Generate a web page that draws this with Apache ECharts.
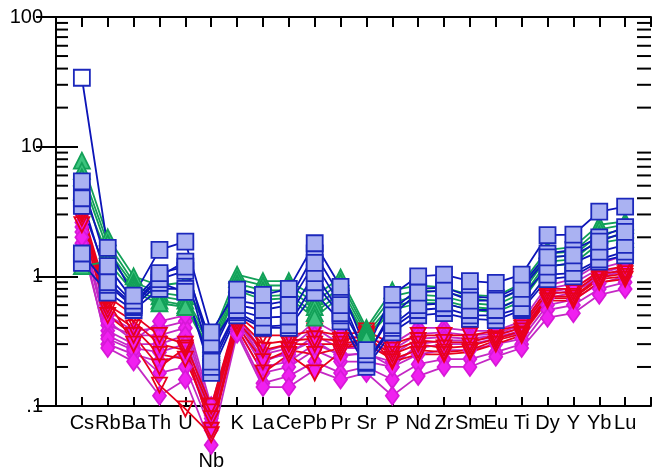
<!DOCTYPE html>
<html><head><meta charset="utf-8">
<script src="https://cdn.jsdelivr.net/npm/echarts@6/dist/echarts.min.js"></script>
<style>html,body{margin:0;padding:0;background:#fff}#c{width:654px;height:473px}</style>
</head><body><div id="c"></div>
<script>
const categories = ['Cs','Rb','Ba','Th','U','Nb','K','La','Ce','Pb','Pr','Sr','P','Nd','Zr','Sm','Eu','Ti','Dy','Y','Yb','Lu'];
const yTickLabels = {0.1: '.1', 1: '1', 10: '10', 100: '100'};
const minorTickValues = [0.2,0.3,0.4,0.5,0.6,0.7,0.8,0.9,2,3,4,5,6,7,8,9,20,30,40,50,60,70,80,90];

// Magenta diamonds
const magenta1 = [3.5,0.50,0.38,0.40,0.45,0.090,0.50,0.26,0.30,0.45,0.35,0.33,0.30,0.40,0.40,0.38,0.38,0.45,0.85,0.95,1.25,1.45];
const magenta2 = [3.0,0.42,0.35,0.35,0.40,0.085,0.47,0.25,0.28,0.40,0.30,0.30,0.27,0.36,0.37,0.35,0.36,0.42,0.80,0.88,1.15,1.30];
const magenta3 = [2.4,0.38,0.30,0.30,0.35,0.080,0.45,0.23,0.25,0.35,0.28,0.28,0.25,0.33,0.34,0.33,0.35,0.40,0.75,0.82,1.05,1.20];
const magenta4 = [2.2,0.35,0.28,0.26,0.30,0.075,0.43,0.20,0.22,0.30,0.25,0.25,0.22,0.28,0.30,0.30,0.33,0.37,0.68,0.75,0.98,1.10];
const magenta5 = [1.8,0.30,0.25,0.22,0.25,0.070,0.40,0.18,0.20,0.27,0.22,0.22,0.20,0.25,0.27,0.27,0.30,0.33,0.60,0.66,0.88,1.00];
const magenta6 = [2.6,0.33,0.27,0.18,0.20,0.065,0.38,0.15,0.17,0.22,0.18,0.20,0.16,0.21,0.23,0.23,0.26,0.30,0.55,0.60,0.80,0.90];
const magenta7 = [2.0,0.28,0.22,0.12,0.16,0.050,0.36,0.14,0.14,0.19,0.16,0.18,0.12,0.17,0.20,0.20,0.24,0.28,0.48,0.52,0.72,0.80];
const magenta8 = [3.8,0.45,0.32,0.45,0.50,0.100,0.48,0.22,0.26,0.32,0.24,0.26,0.20,0.30,0.32,0.32,0.34,0.38,0.72,0.78,1.00,1.15];
// Red open inverted triangles
const red1 = [3.3,0.70,0.50,0.35,0.30,0.100,0.50,0.35,0.35,0.38,0.35,0.38,0.30,0.35,0.35,0.35,0.38,0.42,0.80,0.80,1.10,1.20];
const red2 = [3.0,0.60,0.45,0.30,0.27,0.090,0.48,0.30,0.32,0.33,0.32,0.35,0.27,0.32,0.31,0.31,0.35,0.40,0.75,0.75,1.05,1.10];
const red3 = [2.8,0.55,0.40,0.25,0.23,0.080,0.45,0.27,0.30,0.30,0.30,0.33,0.25,0.30,0.28,0.29,0.33,0.38,0.70,0.70,0.98,1.05];
const red4 = [2.5,0.50,0.35,0.20,0.28,0.065,0.42,0.22,0.27,0.25,0.28,0.30,0.23,0.27,0.26,0.27,0.32,0.36,0.68,0.68,0.95,1.00];
const red5 = [3.1,0.65,0.30,0.145,0.095,0.060,0.40,0.18,0.25,0.18,0.26,0.36,0.22,0.25,0.25,0.26,0.30,0.35,0.65,0.65,0.90,0.95];
// Green triangles
const green1 = [7.8,2.0,1.00,0.85,0.90,0.33,1.03,0.92,0.92,0.70,0.98,0.40,0.78,0.85,0.82,0.72,0.70,0.88,1.60,1.68,2.50,2.65];
const green2 = [6.5,1.8,0.90,0.75,0.70,0.30,0.95,0.85,0.85,0.63,0.90,0.38,0.70,0.78,0.76,0.68,0.64,0.80,1.50,1.55,2.30,2.50];
const green3 = [5.8,1.6,0.85,0.70,0.65,0.28,0.88,0.78,0.78,0.58,0.82,0.36,0.62,0.72,0.70,0.62,0.60,0.74,1.40,1.45,2.10,2.30];
const green4 = [4.5,1.45,0.80,0.65,0.60,0.26,0.82,0.70,0.72,0.52,0.75,0.34,0.58,0.66,0.65,0.58,0.56,0.68,1.30,1.35,1.95,2.10];
const green5 = [1.2,1.3,0.75,0.62,0.58,0.25,0.78,0.66,0.68,0.48,0.70,0.33,0.55,0.62,0.62,0.55,0.53,0.64,1.20,1.25,1.80,1.95];
// Blue squares
const blue1 = [34,1.66,0.71,1.60,1.85,0.37,0.79,0.72,0.80,1.80,0.83,0.27,0.72,1.00,1.03,0.92,0.89,1.03,2.08,2.10,3.15,3.45];
const blue2 = [5.4,1.20,0.65,1.06,1.19,0.30,0.60,0.55,0.60,1.27,0.60,0.25,0.50,0.75,0.78,0.65,0.65,0.80,1.40,1.45,1.85,2.20];
const blue3 = [4.0,0.90,0.60,0.95,1.10,0.22,0.55,0.48,0.49,1.06,0.52,0.22,0.42,0.60,0.62,0.55,0.55,0.68,1.19,1.27,1.55,1.75];
const blue4 = [1.5,0.86,0.58,0.89,0.76,0.20,0.53,0.41,0.42,0.90,0.50,0.215,0.40,0.55,0.57,0.50,0.50,0.57,1.03,1.06,1.35,1.55];
const blue5 = [1.27,0.75,0.55,0.80,0.80,0.18,0.50,0.40,0.40,0.75,0.45,0.20,0.37,0.50,0.52,0.47,0.46,0.55,0.95,1.00,1.30,1.45];
const blue6 = [3.5,1.00,0.62,1.00,1.30,0.25,0.65,0.60,0.65,1.50,0.70,0.24,0.55,0.80,0.82,0.70,0.68,0.85,1.50,1.60,2.00,2.40];

const groups = [
  {list:[magenta1,magenta2,magenta3,magenta4,magenta5,magenta6,magenta7,magenta8], kind:'magenta'},
  {list:[red1,red2,red3,red4,red5], kind:'red'},
  {list:[green1,green2,green3,green4,green5], kind:'green'},
  {list:[blue6,blue5,blue4,blue3,blue2,blue1], kind:'blue'}
];
const styles = {
  magenta:{symbol:'diamond', symbolSize:[13,18], rotate:0, line:'#c428c4', fill:'#f020f0', border:'#d818d8'},
  red:{symbol:'triangle', symbolSize:15, rotate:180, line:'#e8001c', fill:'rgba(255,255,255,0)', border:'#e8001c'},
  green:{symbol:'triangle', symbolSize:16, rotate:0, line:'#12a058', fill:'#3cc47e', border:'#12a058'},
  blue:{symbol:'rect', symbolSize:16, rotate:0, line:'#0c14b8', fill:'#aab2f2', border:'#1c28bc'}
};
const series = [];
groups.forEach(g => {
  const s = styles[g.kind];
  g.list.forEach(vals => {
    series.push({
      type:'line', clip:false, symbol:s.symbol, symbolSize:s.symbolSize, symbolRotate:s.rotate,
      showAllSymbol:true, animation:false,
      lineStyle:{color:s.line, width:1.8},
      itemStyle:{color:s.fill, borderColor:s.border, borderWidth:1.8},
      data: vals.map((v,i) => {
        const d = {value:[i+1, v]};
        if (vals === blue1 && i === 0) d.itemStyle = {color:'#ffffff'};
        return d;
      })
    });
  });
});
series.push({
  type:'custom', animation:false, silent:true, z:10,
  data: minorTickValues.map(v => [0, v]),
  renderItem: function(params, api){
    const v = api.value(1);
    const pL = api.coord([0, v]);
    const pR = api.coord([categories.length + 1, v]);
    return {type:'group', children:[
      {type:'line', shape:{x1:pL[0], y1:pL[1], x2:pL[0]+12, y2:pL[1]}, style:{stroke:'#000', lineWidth:2}},
      {type:'line', shape:{x1:pR[0]-14, y1:pR[1], x2:pR[0], y2:pR[1]}, style:{stroke:'#000', lineWidth:2}}
    ]};
  }
});

const xLabel = v => {
  const name = categories[v-1];
  if (!name) return '';
  return name === 'Nb' ? '{nb|Nb}' : name;
};
const axisLineStyle = {show:true, lineStyle:{color:'#000', width:2}};
const option = {
  animation:false,
  grid:{left:56, top:17, width:601, bottom:67, containLabel:false},
  xAxis:[
    {type:'value', min:0, max:categories.length+1, interval:1, position:'bottom',
     axisLine:axisLineStyle, splitLine:{show:false},
     axisTick:{show:true, inside:true, length:9, lineStyle:{color:'#000', width:2}},
     axisLabel:{show:true, formatter:xLabel, color:'#000', fontFamily:'Liberation Sans', fontSize:20, margin:7,
       showMinLabel:true, showMaxLabel:true, hideOverlap:false,
       rich:{nb:{padding:[38,0,0,0], fontFamily:'Liberation Sans', fontSize:20, color:'#000'}}}},
    {type:'value', min:0, max:categories.length+1, interval:1, position:'top',
     axisLine:axisLineStyle, splitLine:{show:false},
     axisTick:{show:true, inside:true, length:10, lineStyle:{color:'#000', width:2}},
     axisLabel:{show:false}}
  ],
  yAxis:[
    {type:'log', logBase:10, min:0.1, max:100, splitNumber:3, position:'left',
     axisLine:axisLineStyle, splitLine:{show:false},
     axisTick:{show:true, inside:true, length:22, lineStyle:{color:'#000', width:2}},
     axisLabel:{color:'#000', fontFamily:'Liberation Sans', fontSize:20, margin:13,
       formatter: v => yTickLabels[Math.round(v*10)/10] !== undefined ? yTickLabels[Math.round(v*10)/10] : ''}},
    {type:'log', logBase:10, min:0.1, max:100, splitNumber:3, position:'right',
     axisLine:axisLineStyle, splitLine:{show:false},
     axisTick:{show:true, inside:true, length:20, lineStyle:{color:'#000', width:2}},
     axisLabel:{show:false}}
  ],
  series: series
};
const chart = echarts.init(document.getElementById('c'), null, {renderer:'canvas'});
chart.setOption(option);
</script></body></html>
